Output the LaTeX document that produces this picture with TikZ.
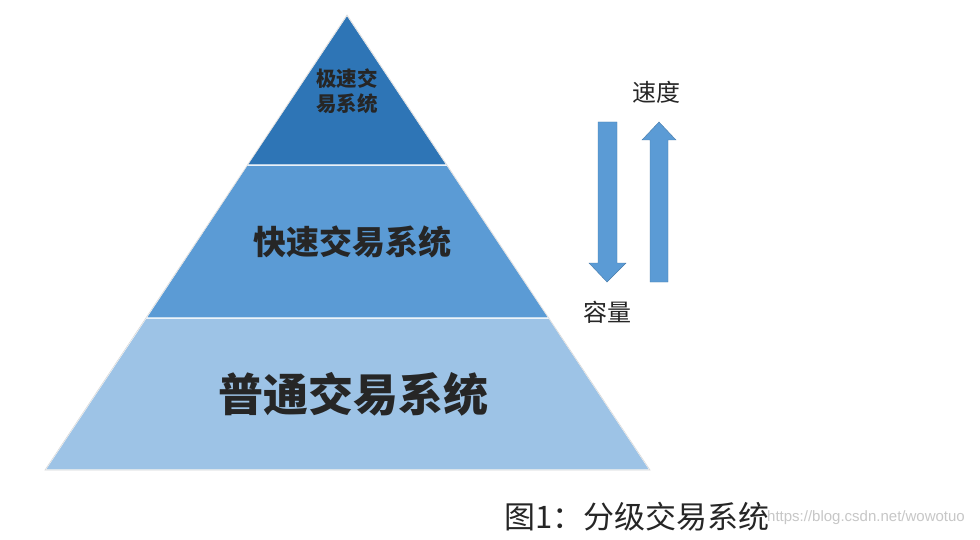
\documentclass[tikz,border=0pt]{standalone}
\usepackage{fontspec}
\setmainfont{Noto Sans CJK SC}
\newfontfamily\wm{Liberation Sans}
\begin{document}
\begin{tikzpicture}[x=1pt,y=-1pt,
  band/.style={draw=white,line width=1.2pt},
  arr/.style={fill=arrblue,draw=arrblue!80!black,line width=0.4pt},
  lbl/.style={font=\fontsize{24}{24}\selectfont,text=black!85}]
\definecolor{topc}{HTML}{2E75B6}
\definecolor{midc}{HTML}{5B9BD5}
\definecolor{botc}{HTML}{9DC3E6}
\definecolor{arrblue}{HTML}{5B9BD5}
\useasboundingbox[fill=white] (0,0) rectangle (980,540);
\coordinate (A) at (347,15);
\coordinate (L1) at (247,165); \coordinate (R1) at (447,165);
\coordinate (L2) at (146,318); \coordinate (R2) at (549,318);
\coordinate (L3) at (45,470); \coordinate (R3) at (650,470);
\fill[botc,band] (L2) -- (R2) -- (R3) -- (L3) -- cycle;
\fill[midc,band] (L1) -- (R1) -- (R2) -- (L2) -- cycle;
\fill[topc,band] (A) -- (R1) -- (L1) -- cycle;
\draw[black!15,line width=0.6pt] (A) -- (L3) -- (R3) -- cycle;
\node[font=\fontsize{20.5}{25}\selectfont\bfseries,align=center,text=black!85] (t) at (347,91) {极速交\\易系统};
\node[font=\fontsize{33}{33}\selectfont\bfseries,text=black!85] (m) at (352,242) {快速交易系统};
\node[font=\fontsize{45}{45}\selectfont\bfseries,text=black!85] (b) at (353,394) {普通交易系统};
% arrows
\draw[arr] (598,122) -- (617,122) -- (617,263) -- (626,263) -- (607,282) -- (589,263) -- (598,263) -- cycle;
\draw[arr] (650,282) -- (668,282) -- (668,140) -- (676,140) -- (659,122) -- (642,140) -- (650,140) -- cycle;
\node[lbl] (s) at (656,92) {速度};
\node[lbl] (c) at (607,312) {容量};
\node[font=\fontsize{31}{31}\selectfont,text=black!85] (cap) at (637,517) {图1：分级交易系统};
\node[font=\wm\fontsize{15}{15}\selectfont,text=black!22] (w) at (866,518) {https://blog.csdn.net/wowotuo};
\end{tikzpicture}
\end{document}
